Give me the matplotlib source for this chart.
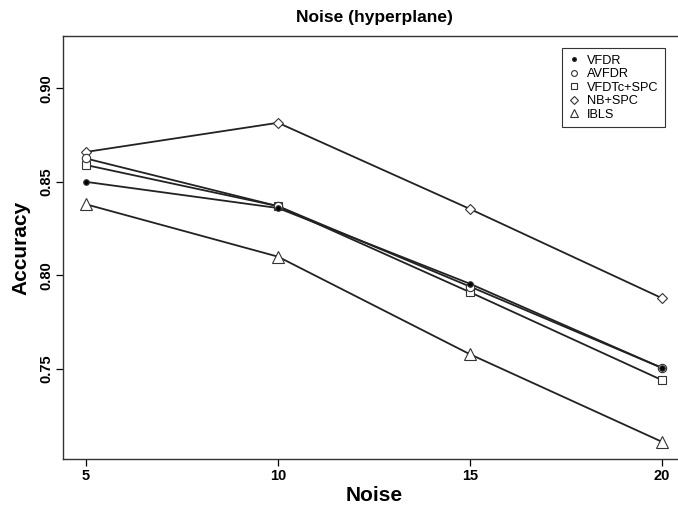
import matplotlib.pyplot as plt

plt.rcParams['font.family'] = ['Liberation Sans', 'DejaVu Sans']

noise = [5, 10, 15, 20]
vfdr = [0.850, 0.836, 0.7955, 0.7505]
avfdr = [0.8625, 0.837, 0.794, 0.7505]
vfdtc_spc = [0.859, 0.837, 0.791, 0.744]
nb_spc = [0.866, 0.8816, 0.8355, 0.7878]
ibls = [0.838, 0.810, 0.7578, 0.711]

series = [
    ('VFDR', vfdr, 'o', 'black', 4),
    ('AVFDR', avfdr, 'o', 'none', 6),
    ('VFDTc+SPC', vfdtc_spc, 's', 'none', 6),
    ('NB+SPC', nb_spc, 'D', 'none', 5.5),
    ('IBLS', ibls, '^', 'none', 8),
]

fig = plt.figure(figsize=(6.78, 5.11), dpi=100)
ax = fig.add_axes([63 / 678, 1 - 459 / 511, (685 - 63) / 678, (459 - 36) / 511])

handles = []
for i, (name, vals, mk, fc, ms) in enumerate(series):
    ax.plot(noise, vals, color='#222222', lw=1.3, zorder=2)
    h, = ax.plot(noise, vals, ls='none', marker=mk, ms=ms, mfc=fc if fc != 'none' else 'white',
                 mec='#333333', mew=0.8, zorder=10 - i, label=name)
    handles.append(h)

ax.set_xlim(4.4, 20.6)
ax.set_ylim(0.7018, 0.928)
ax.set_xticks(noise)
ax.set_xticklabels([str(n) for n in noise])
ax.set_yticks([0.75, 0.80, 0.85, 0.90])
ax.set_yticklabels(['0.75', '0.80', '0.85', '0.90'], rotation=90, va='center')
ax.tick_params(direction='out', length=5, width=0.9, labelsize=10.5, pad=2)
for lab in ax.get_xticklabels() + ax.get_yticklabels():
    lab.set_fontweight('bold')
for sp in ax.spines.values():
    sp.set_linewidth(1.0)
    sp.set_color('#333333')

ax.set_xlabel('Noise', fontsize=15, fontweight='bold', labelpad=2)
ax.set_ylabel('Accuracy', fontsize=15, fontweight='bold', labelpad=6)
ax.set_title('Noise (hyperplane)', fontsize=12.5, fontweight='bold', pad=10)

leg = fig.legend(handles=handles, loc='upper right', bbox_to_anchor=(671 / 678, 1 - 42 / 511),
                 fontsize=9.2, frameon=True, fancybox=False, edgecolor='black',
                 handlelength=0.8, handletextpad=0.6, labelspacing=0.12, borderpad=0.5,
                 markerscale=0.7)
leg.get_frame().set_linewidth(0.8)

fig.savefig('out.png', dpi=100)
